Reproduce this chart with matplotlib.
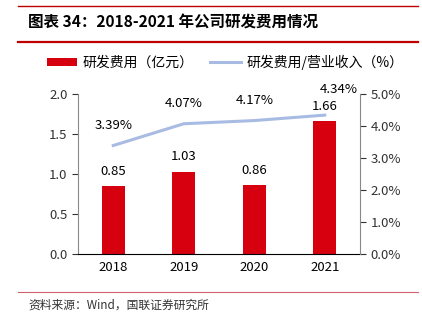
import matplotlib.pyplot as plt
import numpy as np

plt.rcParams['font.family'] = ['Noto Sans CJK SC', 'DejaVu Sans']

years = ['2018', '2019', '2020', '2021']
rd_cost = [0.85, 1.03, 0.86, 1.66]
rd_ratio = [3.39, 4.07, 4.17, 4.34]

red = '#d7000f'
blue = '#a8bbe3'

fig = plt.figure(figsize=(4.22, 3.21), dpi=100)

# header lines and title
fig.add_artist(plt.Line2D([18/422, 418/422], [1 - 6/321, 1 - 6/321], color='#c00000', lw=1.0))
fig.add_artist(plt.Line2D([18/422, 418/422], [1 - 42/321, 1 - 42/321], color='#c00000', lw=1.6))
fig.add_artist(plt.Line2D([18/422, 418/422], [1 - 292/321, 1 - 292/321], color='#d06070', lw=0.8))
fig.text(28/422, 1 - 23/321, '图表 34：2018-2021 年公司研发费用情况', fontsize=11.2,
         fontweight='bold', va='center', ha='left')
fig.text(28/422, 1 - 305/321, '资料来源：Wind，国联证券研究所', fontsize=8.5,
         va='center', ha='left', color='#333333')

ax = fig.add_axes([78/422, 67/321, 282/422, 160/321])
x = np.arange(len(years))
ax.bar(x, rd_cost, width=0.32, color=red, label='研发费用（亿元）', zorder=2)
ax.set_xlim(-0.5, 3.5)
ax.set_ylim(0, 2.0)
ax.set_yticks([0, 0.5, 1.0, 1.5, 2.0])
ax.set_yticklabels(['%.1f' % v for v in [0, 0.5, 1.0, 1.5, 2.0]])
ax.set_xticks(x)
ax.set_xticklabels(years)
ax.tick_params(axis='x', length=0, labelsize=9.5, pad=5)
ax.tick_params(axis='y', length=4, labelsize=9.5, colors='#333333', direction='out')
ax.spines['top'].set_visible(False)
ax.spines['left'].set_color('#888888')
ax.spines['right'].set_visible(False)
ax.spines['bottom'].set_color('black')
for xi, v in zip(x, rd_cost):
    ax.annotate('%.2f' % v, (xi, v), xytext=(0, 6), textcoords='offset points',
                ha='center', va='bottom', fontsize=9.5)

ax2 = ax.twinx()
ax2.plot(x, rd_ratio, color=blue, lw=2.2, label='研发费用/营业收入（%）', zorder=3)
ax2.set_ylim(0, 5.0)
ax2.set_yticks([0, 1, 2, 3, 4, 5])
ax2.set_yticklabels(['%.1f%%' % v for v in [0, 1, 2, 3, 4, 5]])
ax2.tick_params(axis='y', length=4, labelsize=9.5, colors='#333333', direction='out')
ax2.spines['top'].set_visible(False)
ax2.spines['left'].set_visible(False)
ax2.spines['bottom'].set_visible(False)
ax2.spines['right'].set_color('#888888')
offsets = [(0, 10), (0, 10), (0, 10), (10, 14)]
for xi, v, off in zip(x, rd_ratio, offsets):
    ax2.annotate('%.2f%%' % v, (xi, v), xytext=off, textcoords='offset points',
                 ha='center', va='bottom', fontsize=9.5)

h1, l1 = ax.get_legend_handles_labels()
h2, l2 = ax2.get_legend_handles_labels()
fig.legend(h1 + h2, l1 + l2, loc='center left', bbox_to_anchor=(34/422, 1 - 62/321), ncol=2,
           frameon=False, fontsize=10, handlelength=2.2, handleheight=0.5,
           columnspacing=1.2, handletextpad=0.4)

fig.savefig('out.png', dpi=100)
